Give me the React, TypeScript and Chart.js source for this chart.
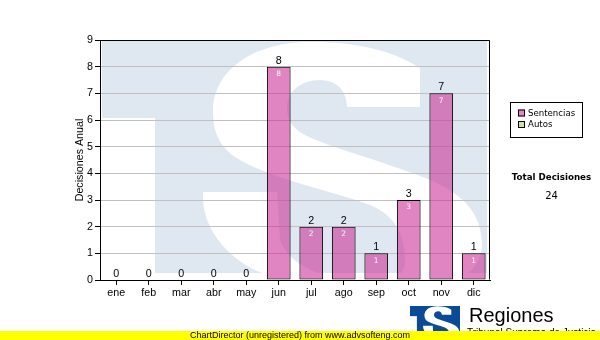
import React, { useEffect, useRef } from "react";
import { Chart, registerables } from "chart.js";

Chart.register(...registerables);

const months = ["ene", "feb", "mar", "abr", "may", "jun", "jul", "ago", "sep", "oct", "nov", "dic"];
const sentencias = [0, 0, 0, 0, 0, 8, 2, 2, 1, 3, 7, 1];
const autos = [0, 0, 0, 0, 0, 0, 0, 0, 0, 0, 0, 0];
const seriesNames = ["Sentencias", "Autos"];
const seriesColors = ["rgba(204,51,153,0.6)", "rgba(153,204,51,0.5)"];
const yMin = 0;
const yMax = 9;
const yStep = 1;
const yTitle = "Decisiones Anual";
const totalTitle = "Total Decisiones";
const brandName = "Regiones";
const brandSub = "Tribunal Supremo de Justicia";
const footerText = "ChartDirector (unregistered) from www.advsofteng.com";

const AXIS_FONT = '"Liberation Sans", Arial, sans-serif';
const UI_FONT = '"DejaVu Sans", Verdana, sans-serif';

// "TS" logo outline, in a 385-unit-wide design space
function drawLogo(ctx: CanvasRenderingContext2D, x: number, y: number, w: number, color: string) {
  const k = w / 385;
  const h = 233 * k;
  const P = (X: number, Y: number): [number, number] => [x + (X - 102) * k, y + (Y - 40) * k];
  ctx.save();
  ctx.beginPath();
  ctx.rect(x, y, w, h);
  ctx.clip();
  ctx.fillStyle = color;
  ctx.fillRect(x, y, w, h);
  ctx.fillStyle = "#ffffff";
  const [wx, wy] = P(102, 118);
  const [wx2] = P(155, 118);
  ctx.fillRect(wx, wy, wx2 - wx, h);

  const segs: Array<[string, number[]]> = [
    ["M", [420, 107]],
    ["L", [420, 68]],
    ["C", [392, 50, 355, 42, 312, 42]],
    ["C", [250, 42, 213, 72, 213, 112]],
    ["C", [213, 135, 222, 150, 240, 160]],
    ["C", [275, 180, 330, 190, 370, 205]],
    ["C", [395, 215, 405, 235, 405, 260]],
    ["C", [405, 275, 395, 282, 370, 282]],
    ["C", [330, 282, 290, 268, 280, 240]],
    ["L", [277, 192]],
    ["L", [203, 192]],
    ["L", [203, 200]],
    ["C", [205, 235, 235, 265, 268, 275]],
    ["C", [310, 292, 360, 305, 405, 298]],
    ["C", [455, 290, 482, 270, 482, 245]],
    ["C", [482, 215, 465, 195, 430, 180]],
    ["C", [390, 163, 330, 148, 305, 135]],
    ["C", [290, 127, 287, 118, 287, 108]],
    ["C", [287, 92, 300, 80, 320, 80]],
    ["C", [340, 80, 347, 95, 347, 107]],
    ["L", [420, 107]],
  ];
  ctx.beginPath();
  for (const [op, v] of segs) {
    const pts: number[] = [];
    for (let i = 0; i < v.length; i += 2) {
      const [px, py] = P(v[i], v[i + 1]);
      pts.push(px, py);
    }
    if (op === "M") ctx.moveTo(pts[0], pts[1]);
    else if (op === "L") ctx.lineTo(pts[0], pts[1]);
    else ctx.bezierCurveTo(pts[0], pts[1], pts[2], pts[3], pts[4], pts[5]);
  }
  ctx.closePath();
  ctx.fill();
  ctx.restore();
}

const watermarkPlugin = {
  id: "watermark",
  beforeDraw(chart: any) {
    const { ctx, chartArea: a } = chart;
    ctx.save();
    ctx.beginPath();
    ctx.rect(a.left, a.top, a.right - a.left, a.bottom - a.top);
    ctx.clip();
    drawLogo(ctx, a.left + 2, a.top, a.right - a.left - 5, "#dfe8f1");
    ctx.restore();
  },
};

const decorPlugin = {
  id: "decor",
  afterDatasetsDraw(chart: any) {
    const { ctx, chartArea: a } = chart;
    ctx.save();
    ctx.strokeStyle = "#000";
    ctx.lineWidth = 1;
    ctx.beginPath();
    const L = Math.round(a.left) + 0.5;
    const T = Math.round(a.top) + 0.5;
    const R = Math.round(a.right) - 0.5;
    const B = Math.round(a.bottom) - 0.5;
    ctx.moveTo(L, T);
    ctx.lineTo(R, T);
    ctx.lineTo(R, B);
    ctx.stroke();

    const meta0 = chart.getDatasetMeta(0);
    const yScale = chart.scales.y;
    meta0.data.forEach((bar: any, i: number) => {
      const total = chart.data.datasets.reduce((s: number, d: any) => s + (d.data[i] || 0), 0);
      const topY = yScale.getPixelForValue(total);
      ctx.fillStyle = "#000";
      ctx.font = `10.7px ${AXIS_FONT}`;
      ctx.textAlign = "center";
      ctx.textBaseline = "alphabetic";
      ctx.fillText(String(total), bar.x, topY - 3);
      const v = chart.data.datasets[0].data[i];
      if (v > 0) {
        ctx.fillStyle = "rgba(255,255,255,0.9)";
        ctx.font = `7.5px ${UI_FONT}`;
        ctx.textBaseline = "middle";
        ctx.fillText(String(v), bar.x, bar.y + 7.5);
      }
    });
    ctx.restore();
  },
  afterDraw(chart: any) {
    const { ctx } = chart;
    ctx.save();
    ctx.strokeStyle = "#000";
    ctx.lineWidth = 1;
    ctx.strokeRect(510.5, 102.5, 72, 35);
    chart.data.datasets.forEach((d: any, i: number) => {
      const cy = 113.5 + i * 11.5;
      ctx.fillStyle = "#fff";
      ctx.fillRect(518, cy - 4, 7, 7);
      ctx.fillStyle = d.backgroundColor;
      ctx.fillRect(518, cy - 4, 7, 7);
      ctx.strokeStyle = "#000";
      ctx.strokeRect(518.5, cy - 3.5, 6, 6);
      ctx.fillStyle = "#000";
      ctx.font = `8.6px ${UI_FONT}`;
      ctx.textAlign = "left";
      ctx.textBaseline = "middle";
      ctx.fillText(d.label, 528, cy);
    });
    const total = chart.data.datasets.reduce(
      (s: number, d: any) => s + d.data.reduce((a: number, b: number) => a + b, 0),
      0
    );
    ctx.fillStyle = "#000";
    ctx.textAlign = "center";
    ctx.textBaseline = "middle";
    ctx.font = `bold 8.7px ${UI_FONT}`;
    ctx.fillText(totalTitle, 551.5, 178);
    ctx.font = `10px ${UI_FONT}`;
    ctx.fillText(String(total), 551.5, 196);

    drawLogo(ctx, 410, 306, 50, "#0b4a96");
    ctx.fillStyle = "#000";
    ctx.textAlign = "left";
    ctx.textBaseline = "alphabetic";
    ctx.font = `20px ${AXIS_FONT}`;
    ctx.fillText(brandName, 469, 322);
    ctx.font = `10px ${AXIS_FONT}`;
    ctx.textBaseline = "top";
    ctx.fillText(brandSub, 467, 328.5);

    ctx.fillStyle = "#ffff00";
    ctx.fillRect(0, 331, 600, 9);
    ctx.fillStyle = "#000";
    ctx.font = `9px ${AXIS_FONT}`;
    ctx.textBaseline = "middle";
    ctx.fillText(footerText, 190, 335.5);
    ctx.restore();
  },
};

export default function App() {
  const ref = useRef<HTMLCanvasElement | null>(null);

  useEffect(() => {
    document.body.style.margin = "0";
    if (!ref.current) return;
    const chart = new Chart(ref.current, {
      type: "bar",
      data: {
        labels: months,
        datasets: [
          {
            label: seriesNames[0],
            data: sentencias,
            backgroundColor: seriesColors[0],
            borderColor: "#000",
            borderWidth: 1,
            borderSkipped: false,
            categoryPercentage: 1,
            barPercentage: 0.73,
          },
          {
            label: seriesNames[1],
            data: autos,
            backgroundColor: seriesColors[1],
            borderColor: "#000",
            borderWidth: 0,
            categoryPercentage: 1,
            barPercentage: 0.73,
          },
        ],
      },
      options: {
        animation: false,
        responsive: false,
        devicePixelRatio: 1,
        layout: { padding: { left: 60, right: 110, top: 40, bottom: 0 } },
        plugins: {
          legend: { display: false },
          tooltip: { enabled: false },
        },
        scales: {
          x: {
            stacked: true,
            offset: true,
            afterFit(scale: any) {
              scale.height = 60;
            },
            grid: {
              offset: false,
              drawOnChartArea: false,
              tickLength: 5,
              tickColor: "#000",
            },
            border: { color: "#000", width: 1 },
            ticks: {
              color: "#000",
              padding: 2,
              maxRotation: 0,
              autoSkip: false,
              font: { family: AXIS_FONT, size: 10.7 },
            },
          },
          y: {
            stacked: true,
            min: yMin,
            max: yMax,
            afterFit(scale: any) {
              scale.width = 40;
            },
            grid: {
              color: "#c0c0c0",
              tickColor: "#000",
              tickLength: 5,
            },
            border: { color: "#000", width: 1 },
            ticks: {
              stepSize: yStep,
              color: "#000",
              padding: 2,
              font: { family: AXIS_FONT, size: 10.7 },
            },
            title: {
              display: true,
              text: yTitle,
              color: "#000",
              padding: { top: 14, bottom: 0 },
              font: { family: AXIS_FONT, size: 10.7 },
            },
          },
        },
      },
      plugins: [watermarkPlugin, decorPlugin],
    });
    return () => chart.destroy();
  }, []);

  return (
    <div style={{ position: "absolute", left: 0, top: 0, width: 600, height: 340 }}>
      <canvas ref={ref} width={600} height={340} style={{ display: "block" }} />
    </div>
  );
}
